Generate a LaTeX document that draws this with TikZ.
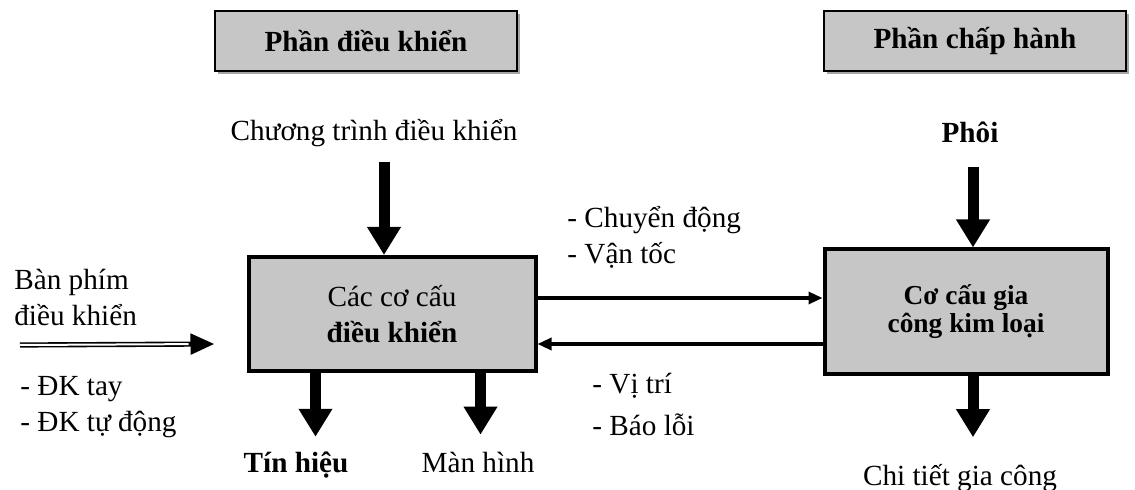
\documentclass[tikz,border=0pt]{standalone}
\usepackage{fontspec}
\setmainfont{Liberation Serif}
\usetikzlibrary{arrows.meta,shadows}

\definecolor{boxgray}{RGB}{198,198,198}

\tikzset{
  hdr/.style={rectangle, draw=black, line width=1pt, fill=boxgray,
    minimum width=151pt, minimum height=30pt,
    drop shadow={shadow xshift=1.6pt, shadow yshift=-1.6pt, fill=black!70}},
  block/.style={rectangle, draw=black, line width=2pt, fill=boxgray, align=center},
  lbl/.style={inner sep=0pt, align=left, anchor=west},
  bigarrow/.style={line width=5.5pt, -{Triangle[width=16pt,length=14pt]}},
  thinarrow/.style={line width=1.6pt, -{Triangle[width=6pt,length=7pt]}},
  dblarrow/.style={line width=2.6pt, -{Triangle[width=10pt,length=12pt]}},
}

\begin{document}
\begin{tikzpicture}[x=0.5pt, y=-0.5pt, font=\fontsize{14.6}{18}\selectfont]
\useasboundingbox (0,0) rectangle (1135,490);

% headers
\node[hdr] (hctrl) at (366,41) {\textbf{Phần điều khiển}};
\node[hdr] (hact) at (975,41) {\textbf{Phần chấp hành}};

% inputs from above
\node (prog) at (374,133) {Chương trình điều khiển};
\node (blank) at (970,132) {\textbf{Phôi}};

% the two blocks
\node[block, minimum width=143.5pt, minimum height=57pt] (ctrl) at (392,314)
  {Các cơ cấu\\ \textbf{điều khiển}};
\node[block, minimum width=141.5pt, minimum height=62.5pt,
  font=\fontsize{13.7}{14}\selectfont\bfseries] (work) at (966,312)
  {Cơ cấu gia\\ công kim loại};

% outputs
\node (sig) at (296,465) {\textbf{Tín hiệu}};
\node (disp) at (478,462) {Màn hình};
\node (part) at (960,478) {Chi tiết gia công};

% side labels
\node[lbl] (kbd) at (14,297) {Bàn phím\\ điều khiển};
\node[lbl] (mode) at (20,407) {- ĐK tay\\ - ĐK tự động};
\node[lbl] (fwd) at (567,237) {- Chuyển động\\ - Vận tốc};
\node[lbl] (back) at (592,404) {- Vị trí\\[3pt] - Báo lỗi};

% thick arrows
\draw[bigarrow] (prog.south) ++(5pt,-4pt) coordinate (p1) -- (p1 |- ctrl.north);
\draw[bigarrow] (blank.south) ++(1.5pt,-9pt) coordinate (b1) -- (b1 |- work.north);
\draw[bigarrow, shorten >=10pt] ([xshift=3.5pt]work.south) coordinate (w1) -- (w1 |- part.north);
\draw[bigarrow, shorten >=4pt] ([xshift=34.5pt]ctrl.south west) coordinate (s1) -- (s1 |- sig.north);
\draw[bigarrow, shorten >=5pt] ([xshift=117pt]ctrl.south west) coordinate (s2) -- (s2 |- disp.north);

% signals between the blocks
\draw[thinarrow] ([yshift=8pt]ctrl.east) -- ([yshift=8pt]ctrl.east -| work.west);
\draw[thinarrow] ([yshift=-15pt]ctrl.east -| work.west) -- ([yshift=-15pt]ctrl.east);

% keyboard input: black bar with a white stripe gives the double line
\coordinate (kin) at (20,345);
\coordinate (kend) at ([xshift=-16pt,yshift=-15pt]ctrl.west);
\draw[dblarrow] (kin) -- (kend);
\draw[white, line width=1pt, shorten >=13pt] (kin) -- (kend);
\end{tikzpicture}
\end{document}
